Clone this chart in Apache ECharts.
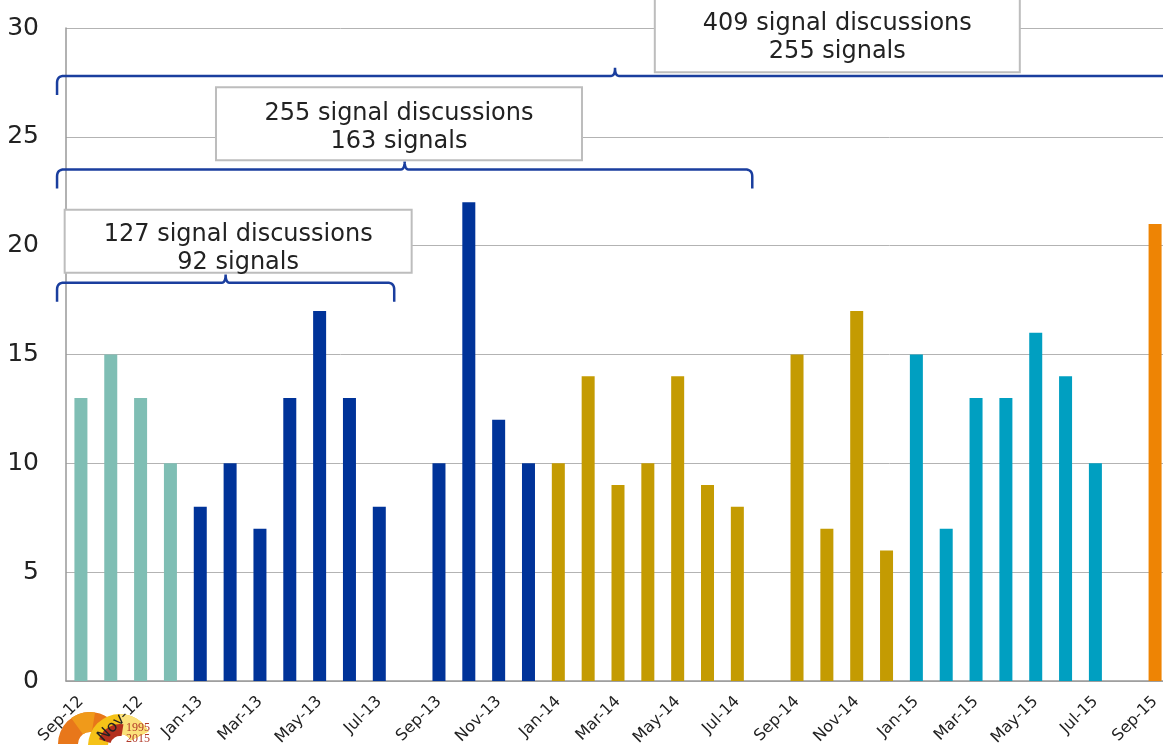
<!DOCTYPE html>
<html>
<head>
<meta charset="utf-8">
<script src="https://cdn.jsdelivr.net/npm/echarts@6/dist/echarts.min.js"></script>
<style>
  html, body { margin: 0; padding: 0; background: #fff; }
  #chart { width: 1163px; height: 745px; }
</style>
</head>
<body>
<div id="chart"></div>
<script>
// --- data ---
const months = [
  'Sep-12', 'Oct-12', 'Nov-12', 'Dec-12',
  'Jan-13', 'Feb-13', 'Mar-13', 'Apr-13', 'May-13', 'Jun-13', 'Jul-13', 'Aug-13', 'Sep-13', 'Oct-13', 'Nov-13', 'Dec-13',
  'Jan-14', 'Feb-14', 'Mar-14', 'Apr-14', 'May-14', 'Jun-14', 'Jul-14', 'Aug-14', 'Sep-14', 'Oct-14', 'Nov-14', 'Dec-14',
  'Jan-15', 'Feb-15', 'Mar-15', 'Apr-15', 'May-15', 'Jun-15', 'Jul-15', 'Aug-15', 'Sep-15'
];
const discussions = [
  13, 15, 13, 10,
  8, 10, 7, 13, 17, 13, 8, null, 10, 22, 12, 10,
  10, 14, 9, 10, 14, 9, 8, null, 15, 7, 17, 6,
  15, 7, 13, 13, 16, 14, 10, null, 21
];
// colour group of each month
const groups = [
  0, 0, 0, 0,
  1, 1, 1, 1, 1, 1, 1, 1, 1, 1, 1, 1,
  2, 2, 2, 2, 2, 2, 2, 2, 2, 2, 2, 2,
  3, 3, 3, 3, 3, 3, 3, 3, 4
];
const groupColors = ['#7fbeb4', '#003399', '#c49b02', '#009fc1', '#ee8404'];

// brackets: [from category, to category, y value]
const bracketStart = [-0.8, -0.8, -0.8];
const bracketEnd = [10.5, 22.5, 36.6];
const bracketLevel = [18.3, 23.5, 27.8];
// annotation boxes
const boxText = [
  '127 signal discussions\n92 signals',
  '255 signal discussions\n163 signals',
  '409 signal discussions\n255 signals'
];
const boxCenterX = [5.27, 10.66, 25.35];
const boxCenterY = [20.2, 25.6, 29.81];
const textCenterY = [19.85, 25.4, 29.55];
const boxWidth = [347, 366, 365];
const boxHeight = [63, 73, 80];

const chart = echarts.init(document.getElementById('chart'));

const option = {
  animation: false,
  grid: { left: 66, top: 28, width: 1104, height: 653, outerBoundsMode: 'none', containLabel: false },
  xAxis: {
    type: 'category',
    data: months,
    boundaryGap: true,
    axisLine: { show: true, lineStyle: { color: '#999', width: 1.5 } },
    axisTick: { show: false },
    axisLabel: {
      interval: 1,
      rotate: 45,
      margin: 18,
      fontFamily: 'DejaVu Sans',
      fontSize: 16,
      color: '#222'
    }
  },
  yAxis: {
    type: 'value',
    min: 0,
    max: 30,
    interval: 5,
    axisLine: { show: true, lineStyle: { color: '#999', width: 1.5 } },
    axisTick: { show: false },
    splitLine: { lineStyle: { color: '#b3b3b3', width: 1 } },
    axisLabel: {
      margin: 27,
      fontFamily: 'DejaVu Sans',
      fontSize: 25,
      color: '#222'
    }
  },
  series: [
    {
      type: 'bar',
      barWidth: 13,
      data: discussions.map((v, i) => ({
        value: v,
        itemStyle: { color: groupColors[groups[i]] }
      }))
    }
  ]
};
chart.setOption(option);

// --- annotations placed through the axis scales ---
function px(cat, val) {
  return chart.convertToPixel({ gridIndex: 0 }, [cat, val]);
}
function catX(c) {
  // fractional category position
  const a = px(0, 0)[0], b = px(1, 0)[0];
  return a + (b - a) * c;
}
// sample a quadratic curve
function quad(p0, p1, p2, n) {
  const pts = [];
  for (let k = 1; k <= n; k++) {
    const t = k / n, u = 1 - t;
    pts.push([
      u * u * p0[0] + 2 * u * t * p1[0] + t * t * p2[0],
      u * u * p0[1] + 2 * u * t * p1[1] + t * t * p2[1]
    ]);
  }
  return pts;
}

const graphics = [];

bracketStart.forEach((s, i) => {
  const x1 = catX(s), x2 = catX(bracketEnd[i]);
  const y = px(0, bracketLevel[i])[1];
  const tip = (x1 + x2) / 2;
  const drop = 19, up = 8, r = 7;
  let pts = [[x1, y + drop], [x1, y + r]];
  pts = pts.concat(quad([x1, y + r], [x1, y], [x1 + r, y], 8));
  pts.push([tip - 4, y]);
  pts = pts.concat(quad([tip - 4, y], [tip, y], [tip, y - up], 6));
  pts = pts.concat(quad([tip, y - up], [tip, y], [tip + 4, y], 6));
  pts.push([x2 - r, y]);
  pts = pts.concat(quad([x2 - r, y], [x2, y], [x2, y + r], 8));
  pts.push([x2, y + drop]);
  graphics.push({
    type: 'polyline',
    z: 10,
    shape: { points: pts },
    style: { fill: null, stroke: '#1a3e9e', lineWidth: 2.5 }
  });
});

boxText.forEach((t, i) => {
  const cx = catX(boxCenterX[i]);
  const cy = px(0, boxCenterY[i])[1];
  const ty = px(0, textCenterY[i])[1];
  graphics.push({
    type: 'rect',
    z: 11,
    shape: { x: cx - boxWidth[i] / 2, y: cy - boxHeight[i] / 2, width: boxWidth[i], height: boxHeight[i] },
    style: { fill: '#fff', stroke: '#bdbdbd', lineWidth: 2 }
  });
  graphics.push({
    type: 'text',
    z: 12,
    x: cx,
    y: ty,
    style: {
      text: t,
      font: '24px "DejaVu Sans"',
      fill: '#222',
      align: 'center',
      verticalAlign: 'middle',
      lineHeight: 28
    }
  });
});

// anniversary logo, bottom left
graphics.push(
  { type: 'sector', z: 0, shape: { cx: 90, cy: 744, r0: 12, r: 32, startAngle: Math.PI, endAngle: 1.9 * Math.PI }, style: { fill: '#e8771a' } },
  { type: 'sector', z: 0, shape: { cx: 90, cy: 744, r0: 12, r: 32, startAngle: 1.3 * Math.PI, endAngle: 1.55 * Math.PI }, style: { fill: '#f09a1a' } },
  { type: 'sector', z: 0, shape: { cx: 120, cy: 746, r0: 12, r: 32, startAngle: Math.PI, endAngle: 1.85 * Math.PI }, style: { fill: '#f5c218' } },
  { type: 'sector', z: 0, shape: { cx: 120, cy: 746, r0: 12, r: 32, startAngle: 1.5 * Math.PI, endAngle: 1.85 * Math.PI }, style: { fill: '#fbe07a' } },
  { type: 'sector', z: 0, shape: { cx: 120, cy: 746, r0: 10, r: 22, startAngle: 1.1 * Math.PI, endAngle: 1.55 * Math.PI }, style: { fill: '#b3301d' } },
  { type: 'text', z: 1, x: 126, y: 722, style: { text: '1995\n2015', font: '12px "Liberation Serif"', fill: '#b23a2a', lineHeight: 11 } }
);

chart.setOption({ graphic: graphics });
</script>
</body>
</html>
